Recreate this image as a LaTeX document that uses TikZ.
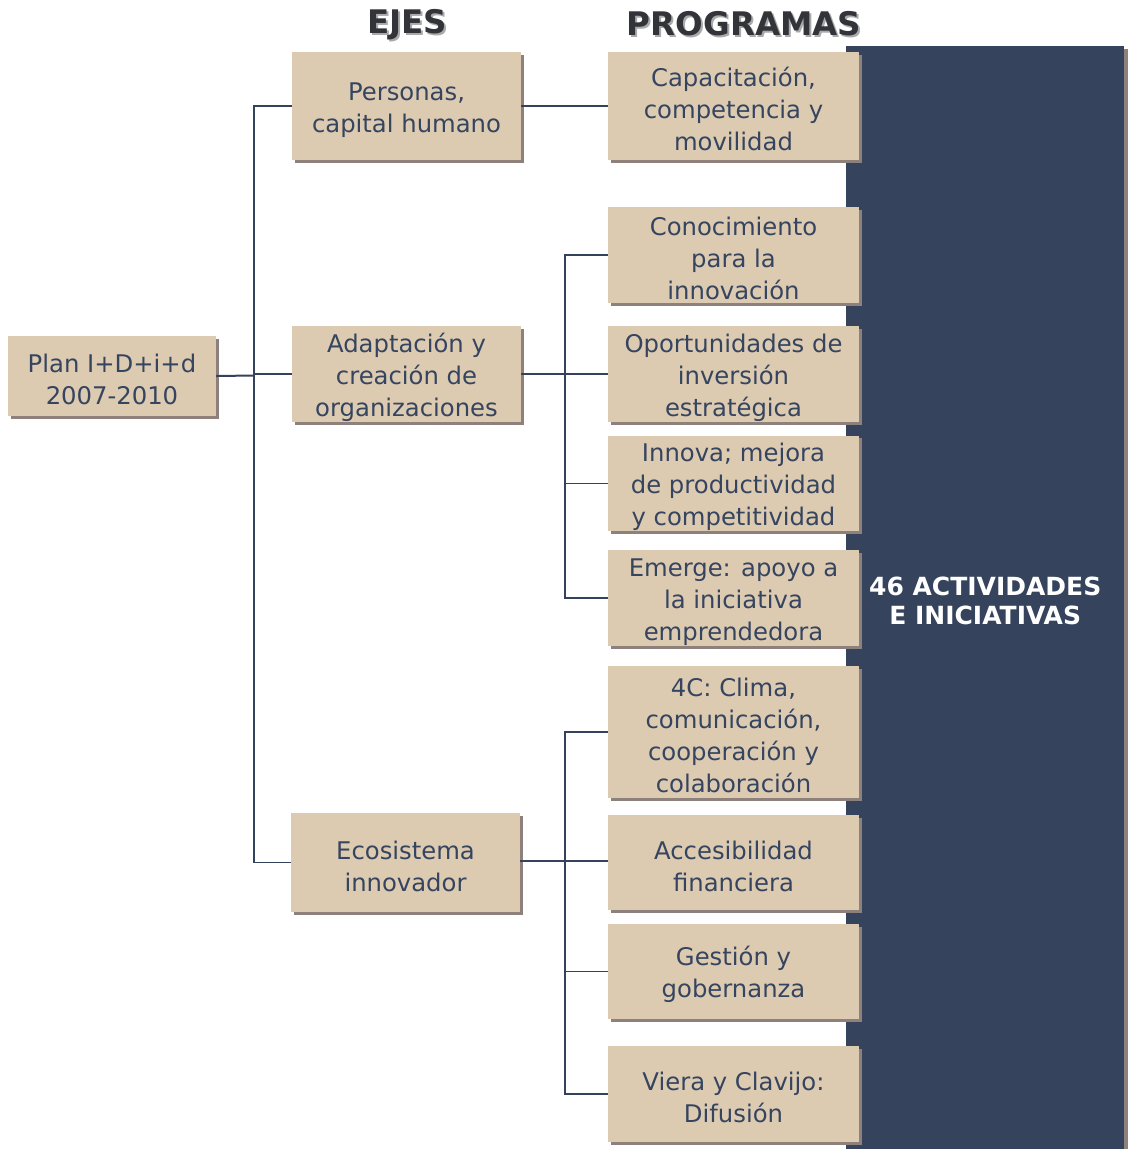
\documentclass[tikz,border=0pt]{standalone}
\usepackage{fontspec}
\setmainfont{DejaVu Sans}
\usetikzlibrary{shadows}
\definecolor{boxfill}{RGB}{220,202,177}
\definecolor{boxshadow}{RGB}{142,129,123}
\definecolor{panelc}{RGB}{53,67,93}
\definecolor{txtc}{RGB}{53,68,95}
\definecolor{linec}{RGB}{52,66,92}
\definecolor{headc}{RGB}{50,52,58}
\definecolor{headsh}{RGB}{170,170,170}
\newcommand\tstrut{\rule{0pt}{26pt}}
\tikzset{
  box/.style={fill=boxfill, draw=none, align=center, text=txtc, inner sep=0pt,
    font=\fontsize{24.3}{32}\selectfont,
    drop shadow={shadow xshift=2.5pt, shadow yshift=-2.5pt, fill=boxshadow, opacity=1}},
  conn/.style={draw=linec, line width=1.1pt},
  head/.style={font=\bfseries\fontsize{32.5}{36}\selectfont, text=headc, inner sep=0pt, anchor=base},
  headshadow/.style={font=\bfseries\fontsize{32.5}{36}\selectfont, text=headsh, inner sep=0pt, anchor=base}
}
\begin{document}
\begin{tikzpicture}[x=1pt,y=-1pt]
\useasboundingbox (0,0) rectangle (1128,1149);
% panel
\fill[boxshadow] (849,49) rectangle (1128,1149);
\node[fill=panelc, minimum width=278pt, minimum height=1110pt, inner sep=0pt, anchor=north west,
  align=center, text=white, font=\bfseries\fontsize{25}{29}\selectfont] (panel) at (846,46)
  {46 ACTIVIDADES\\E INICIATIVAS};
% headers
\node[headshadow] (ejessh) at (409,35) {EJES};
\node[head] (ejes) at (407,33) {EJES};
\node[headshadow] (progsh) at (746,37.5) {PROGRAMAS};
\node[head] (prog) at (744,35.5) {PROGRAMAS};
% plan
\node[box, minimum width=208pt, minimum height=80pt] (plan) at (112,376) {\tstrut Plan I+D+i+d\\2007-2010};
% ejes
\node[box, minimum width=229pt, minimum height=108pt] (pers) at (406.5,106) {\tstrut Personas,\\capital humano};
\node[box, minimum width=229pt, minimum height=96pt] (adap) at (406.5,374) {\tstrut Adaptación y\\creación de\\organizaciones};
\node[box, minimum width=229pt, minimum height=99pt] (ecos) at (405.5,862.5) {\tstrut Ecosistema\\innovador};
% programas
\node[box, minimum width=251pt, minimum height=108pt] (p1) at (733.5,106) {\tstrut Capacitación,\\competencia y\\movilidad};
\node[box, minimum width=251pt, minimum height=96pt] (p2) at (733.5,255) {\tstrut Conocimiento\\para la\\innovación};
\node[box, minimum width=251pt, minimum height=96pt] (p3) at (733.5,374) {\tstrut Oportunidades de\\inversión\\estratégica};
\node[box, minimum width=251pt, minimum height=95pt] (p4) at (733.5,483.5) {\tstrut Innova; mejora\\de productividad\\y competitividad};
\node[box, minimum width=251pt, minimum height=96pt] (p5) at (733.5,598) {\tstrut Emerge: apoyo a\\la iniciativa\\emprendedora};
\node[box, minimum width=251pt, minimum height=132pt] (p6) at (733.5,732) {\tstrut 4C: Clima,\\comunicación,\\cooperación y\\colaboración};
\node[box, minimum width=251pt, minimum height=95pt] (p7) at (733.5,862.5) {\tstrut Accesibilidad\\financiera};
\node[box, minimum width=251pt, minimum height=95pt] (p8) at (733.5,971.5) {\tstrut Gestión y\\gobernanza};
\node[box, minimum width=251pt, minimum height=96pt] (p9) at (733.5,1094) {\tstrut Viera y Clavijo:\\Difusión};
% connectors
\coordinate (t1) at (254,375.5);
\coordinate (t2) at (565,374);
\coordinate (t3) at (565,861);
\draw[conn, line width=2pt] (plan.east) -- (t1);
\draw[conn] (pers.west) -| (t1);
\draw[conn] (ecos.west) -| (t1);
\draw[conn] (adap.west) -- (adap.west -| t1);
\draw[conn] (pers.east) -- (p1.west);
\draw[conn] (adap.east) -- (t2);
\draw[conn] (p2.west) -| (t2);
\draw[conn] (p5.west) -| (t2);
\draw[conn] (p3.west) -- (p3.west -| t2);
\draw[conn] (p4.west) -- (p4.west -| t2);
\draw[conn] (ecos.east |- t3) -- (t3);
\draw[conn] (p6.west) -| (t3);
\draw[conn] (p9.west) -| (t3);
\draw[conn] (p7.west |- t3) -- (t3);
\draw[conn] (p8.west) -- (p8.west -| t3);
\end{tikzpicture}
\end{document}
